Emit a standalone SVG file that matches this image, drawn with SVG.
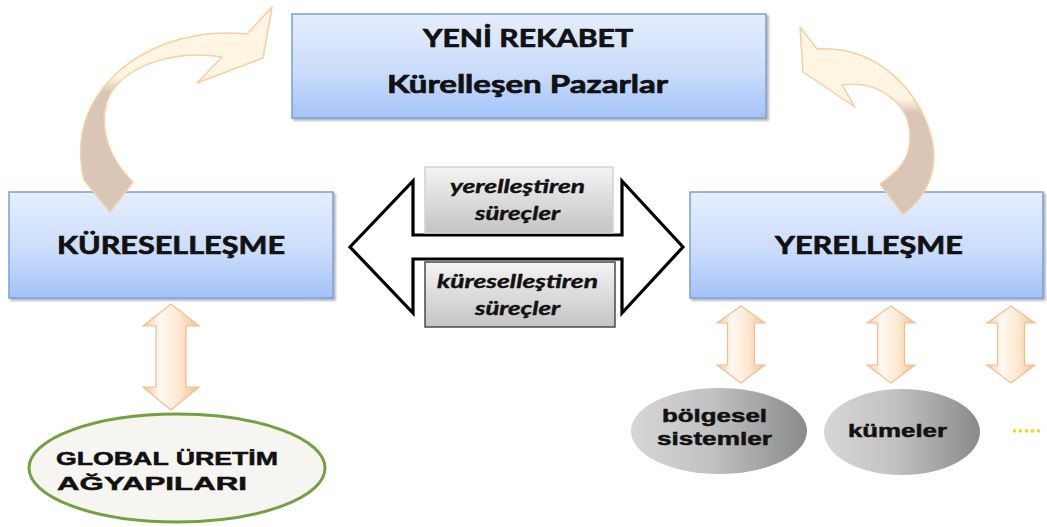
<svg xmlns="http://www.w3.org/2000/svg" xmlns:xlink="http://www.w3.org/1999/xlink" width="1047" height="527" viewBox="0 0 1047 527">
  <defs>
    <style>
      .box { fill: url(#boxFill); stroke: #7a9fd6; stroke-width: 1.5; filter: url(#shadow); }
      .boxText { font-family: Lato, "Open Sans", sans-serif; font-weight: bold; font-size: 25px; fill: #111; stroke: #111; stroke-width: 0.7; text-anchor: middle; }
      .procBox { fill: url(#grayFill); stroke-width: 1.5; }
      .procText { font-family: Lato, "Open Sans", sans-serif; font-weight: bold; font-style: italic; font-size: 18.5px; fill: #111; stroke: #111; stroke-width: 0.4; text-anchor: middle; }
      .ovalText { font-family: "Liberation Sans", Arial, sans-serif; font-weight: bold; font-size: 19px; fill: #111; stroke: #111; stroke-width: 0.5; }
      .vArrow { fill: url(#creamFill); stroke: #efbf90; stroke-width: 1.2; }
      .curve { stroke: #f6cfa3; stroke-width: 1.5; stroke-linejoin: round; }
    </style>
    <linearGradient id="boxFill" x1="0" y1="0" x2="0" y2="1">
      <stop offset="0" stop-color="#e6eefd"/>
      <stop offset="0.55" stop-color="#cbddfb"/>
      <stop offset="1" stop-color="#a3c2f8"/>
    </linearGradient>
    <linearGradient id="grayFill" x1="0" y1="0" x2="0" y2="1">
      <stop offset="0" stop-color="#f4f4f4"/>
      <stop offset="1" stop-color="#c4c4c4"/>
    </linearGradient>
    <linearGradient id="ovalGray" x1="0" y1="0" x2="1" y2="0">
      <stop offset="0" stop-color="#d6d6d6"/>
      <stop offset="0.45" stop-color="#c2c2c2"/>
      <stop offset="1" stop-color="#8a8a8a"/>
    </linearGradient>
    <linearGradient id="creamFill" x1="0" y1="0" x2="1" y2="0">
      <stop offset="0" stop-color="#f3c79c"/>
      <stop offset="0.3" stop-color="#fff9f1"/>
      <stop offset="0.65" stop-color="#fde8d0"/>
      <stop offset="1" stop-color="#f0c195"/>
    </linearGradient>
    <linearGradient id="curveLeft" gradientUnits="userSpaceOnUse" x1="0" y1="200" x2="0" y2="20">
      <stop offset="0" stop-color="#d9c6b6"/>
      <stop offset="0.6" stop-color="#d9c6b6"/>
      <stop offset="0.68" stop-color="#fff5e3"/>
      <stop offset="1" stop-color="#fff5e3"/>
    </linearGradient>
    <linearGradient id="curveRight" gradientUnits="userSpaceOnUse" x1="0" y1="215" x2="0" y2="30">
      <stop offset="0" stop-color="#d9c6b6"/>
      <stop offset="0.55" stop-color="#d9c6b6"/>
      <stop offset="0.63" stop-color="#fff5e3"/>
      <stop offset="1" stop-color="#fff5e3"/>
    </linearGradient>
    <filter id="shadow" x="-5%" y="-10%" width="115%" height="130%">
      <feDropShadow dx="2" dy="2" stdDeviation="1.2" flood-color="#000" flood-opacity="0.3"/>
    </filter>
    <path id="vArrowSmall" d="M0,0 L24,17 L13.5,17 L13.5,59 L24,59 L0,77 L-24,59 L-13.5,59 L-13.5,17 L-24,17 Z"/>
  </defs>

  <rect width="1047" height="527" fill="#ffffff"/>

  <!-- top box -->
  <g id="node-yeni-rekabet">
    <rect class="box" x="292" y="14" width="474" height="104"/>
    <text class="boxText" x="528" y="47" textLength="210" lengthAdjust="spacingAndGlyphs">YENİ REKABET</text>
    <text class="boxText" x="527.5" y="93" textLength="281" lengthAdjust="spacingAndGlyphs">Kürelleşen Pazarlar</text>
  </g>

  <!-- left and right boxes -->
  <g id="node-kuresellesme">
    <rect class="box" x="9" y="192" width="324" height="106"/>
    <text class="boxText" x="171" y="254" textLength="228" lengthAdjust="spacingAndGlyphs">KÜRESELLEŞME</text>
  </g>
  <g id="node-yerellesme">
    <rect class="box" x="690" y="192" width="353" height="106"/>
    <text class="boxText" x="869" y="254" textLength="188" lengthAdjust="spacingAndGlyphs">YERELLEŞME</text>
  </g>

  <g id="connectors">
    <!-- curved arrows up to the top box -->
    <path class="curve" fill="url(#curveLeft)" d="M110,212 L84,180 C76,145 82,110 110,80 C140,48 190,28 247,34 L272,7 L263,58 L197,83 L222,57 C180,50 135,62 114,88 C98,110 100,150 133,182 Z"/>
    <path class="curve" fill="url(#curveRight)" d="M800,27 L803,72 L855,107 L842,85 C880,80 912,105 910,140 C909,160 898,172 880,184 L903,214 C930,195 938,165 932,140 C922,95 880,45 817,49 Z"/>

    <!-- central two-way arrow -->
    <path fill="#ffffff" stroke="#000" stroke-width="3.2" stroke-linejoin="miter" d="M350,247 L413,181 L413,235 L622,235 L622,181 L683,247 L622,313 L622,259 L413,259 L413,313 Z"/>

    <!-- vertical two-way arrows -->
    <path class="vArrow" d="M171,304 L199,326 L186,326 L186,387 L199,387 L171,410 L143,387 L156,387 L156,326 L143,326 Z"/>
    <use class="vArrow" xlink:href="#vArrowSmall" x="741" y="306"/>
    <use class="vArrow" xlink:href="#vArrowSmall" x="891" y="306"/>
    <use class="vArrow" xlink:href="#vArrowSmall" x="1011" y="306"/>
  </g>

  <!-- process labels on the central arrow -->
  <g id="node-yerellestiren">
    <rect class="procBox" x="425" y="167" width="188" height="66" stroke="#d2d2d2"/>
    <text class="procText" x="517.5" y="193" textLength="135" lengthAdjust="spacingAndGlyphs">yerelleştiren</text>
    <text class="procText" x="517.5" y="220" textLength="85" lengthAdjust="spacingAndGlyphs">süreçler</text>
  </g>
  <g id="node-kuresellestiren">
    <rect class="procBox" x="425" y="262" width="190" height="65" stroke="#4a4a4a" stroke-width="2"/>
    <text class="procText" x="517.5" y="288" textLength="161" lengthAdjust="spacingAndGlyphs">küreselleştiren</text>
    <text class="procText" x="517.5" y="315" textLength="85" lengthAdjust="spacingAndGlyphs">süreçler</text>
  </g>

  <!-- bottom ovals -->
  <g id="node-global-uretim">
    <ellipse cx="177" cy="468" rx="148" ry="54" fill="#f6f5f1" stroke="#74a040" stroke-width="3"/>
    <text class="ovalText" x="56" y="465" textLength="222" lengthAdjust="spacingAndGlyphs">GLOBAL ÜRETİM</text>
    <text class="ovalText" x="57" y="490" textLength="190" lengthAdjust="spacingAndGlyphs">AĞYAPILARI</text>
  </g>
  <g id="node-bolgesel">
    <ellipse cx="719" cy="431" rx="88" ry="43" fill="url(#ovalGray)"/>
    <text class="ovalText" x="714.5" y="422" text-anchor="middle" font-size="20" textLength="105" lengthAdjust="spacingAndGlyphs">bölgesel</text>
    <text class="ovalText" x="714.5" y="445" text-anchor="middle" font-size="20" textLength="115" lengthAdjust="spacingAndGlyphs">sistemler</text>
  </g>
  <g id="node-kumeler">
    <ellipse cx="902" cy="432" rx="78" ry="43" fill="url(#ovalGray)"/>
    <text class="ovalText" x="897.5" y="437" text-anchor="middle" font-size="20" textLength="99" lengthAdjust="spacingAndGlyphs">kümeler</text>
  </g>
  <g id="node-more">
    <line x1="1013" y1="431" x2="1041" y2="431" stroke="#ffd400" stroke-width="3" stroke-dasharray="3 3"/>
  </g>
</svg>
